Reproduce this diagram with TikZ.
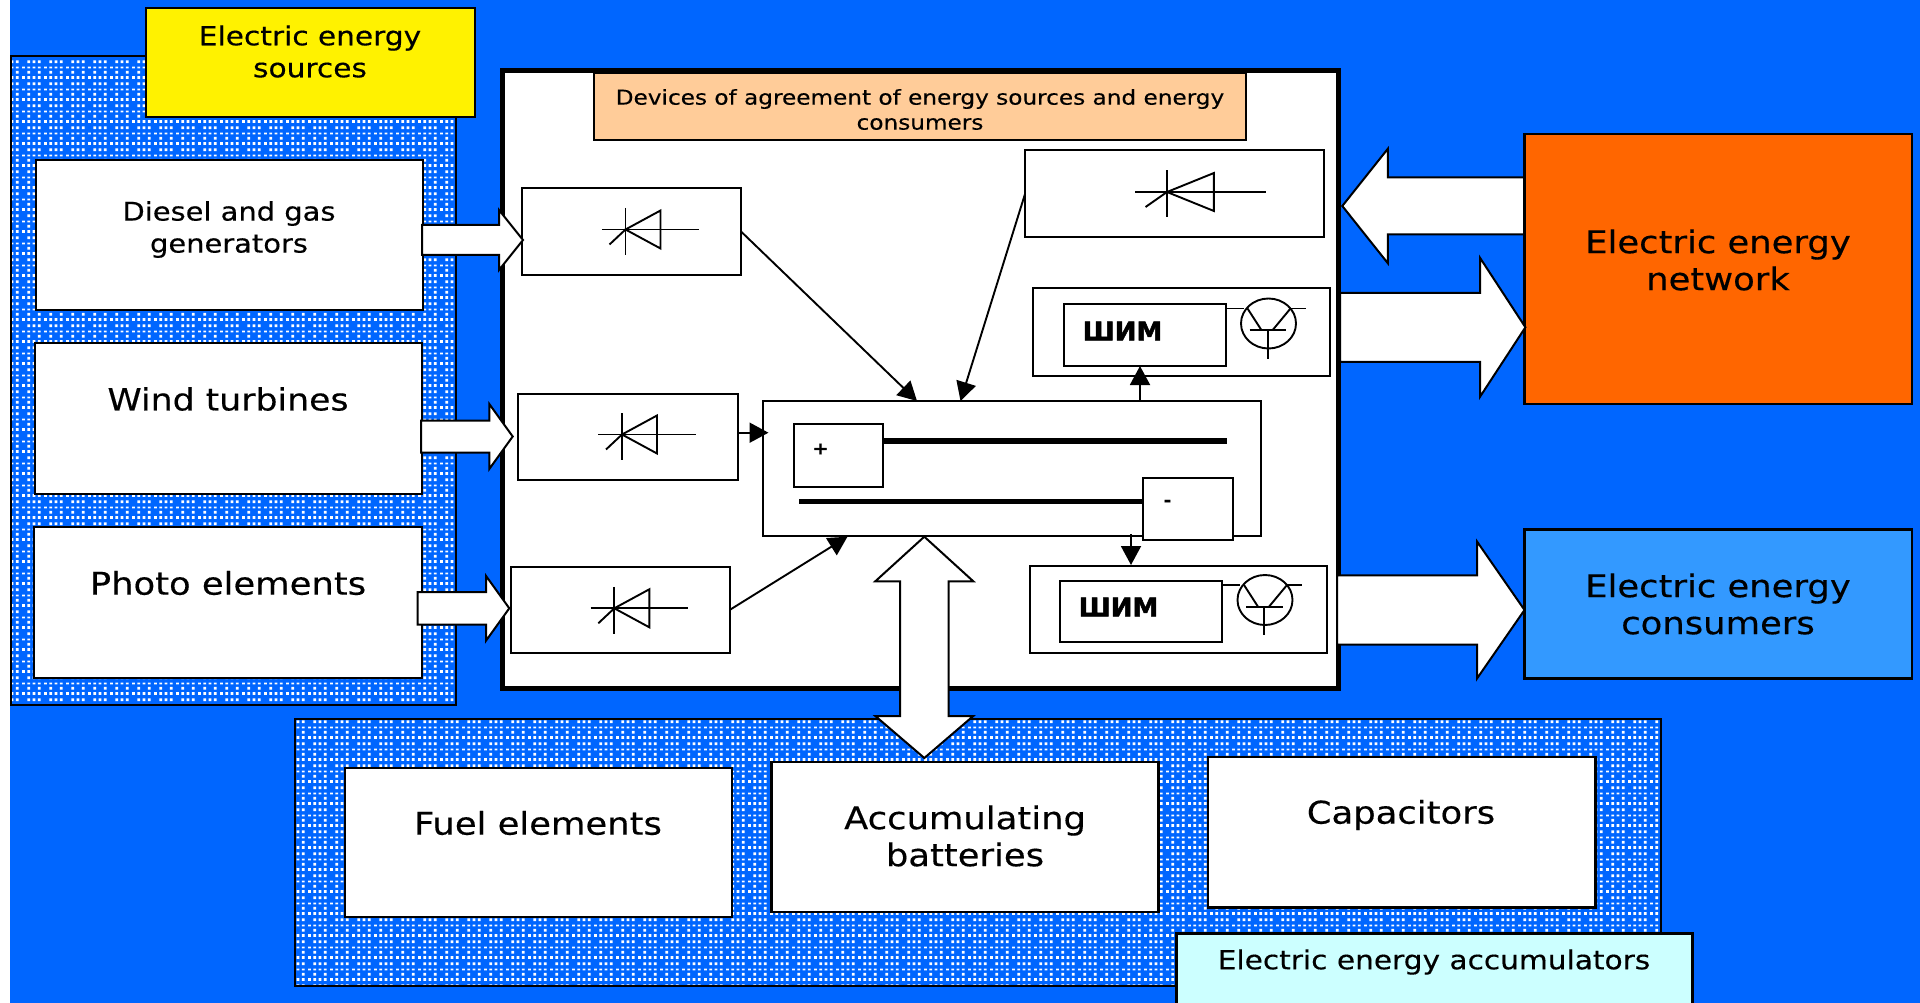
\documentclass[tikz,border=0pt]{standalone}
\usepackage{fontspec}
\setmainfont[FakeStretch=1.13,FakeBold=0.35]{DejaVu Sans}
\newfontfamily\pwmfont[FakeBold=2]{DejaVu Sans Bold}
\usetikzlibrary{calc,patterns,arrows.meta}
\definecolor{bgblue}{HTML}{0066FF}
\definecolor{netorange}{HTML}{FF6600}
\definecolor{consblue}{HTML}{3399FF}
\definecolor{headpeach}{HTML}{FFCC99}
\definecolor{acccyan}{HTML}{CCFFFF}
\pgfdeclarepatternformonly{dotgrid}{\pgfpointorigin}{\pgfqpoint{22pt}{22pt}}{\pgfqpoint{22pt}{22pt}}{%
  \foreach \c in {0,5.5,11,16.5}{\pgfpathrectangle{\pgfqpoint{\c pt}{0pt}}{\pgfqpoint{3pt}{3pt}}}%
  \foreach \c in {5.5,16.5}{\pgfpathrectangle{\pgfqpoint{\c pt}{5.5pt}}{\pgfqpoint{3pt}{3pt}}}%
  \foreach \c in {0,5.5,11,16.5}{\pgfpathrectangle{\pgfqpoint{\c pt}{11pt}}{\pgfqpoint{3pt}{2pt}}}%
  \foreach \c in {5.5,11,16.5}{\pgfpathrectangle{\pgfqpoint{\c pt}{16.5pt}}{\pgfqpoint{3pt}{3pt}}}%
  \pgfusepath{fill}}
\tikzset{
  dotpanel/.style={draw=black,line width=2.4pt,preaction={fill=bgblue},preaction={pattern=dotgrid,pattern color=white}},
  whitebox/.style={draw=black,line width=2.4pt,fill=white},
  thinbox/.style={draw=black,line width=2pt,fill=white},
  blockarrow/.style={draw=black,line width=2pt,fill=white,line join=miter},
  symbol/.style={draw=black,line width=1.9pt},
  link/.style={draw=black,line width=1.9pt,-{Triangle[length=19pt,width=20pt]}},
  smalltxt/.style={font=\fontsize{20.5}{25}\selectfont,align=center,inner sep=0pt},
  diesetxt/.style={font=\fontsize{25.6}{32}\selectfont,align=center,inner sep=0pt},
  midtxt/.style={font=\fontsize{26.2}{32}\selectfont,align=center,inner sep=0pt},
  windtxt/.style={font=\fontsize{30.7}{37}\selectfont,align=center,inner sep=0pt},
  bigtxt/.style={font=\fontsize{31.3}{37}\selectfont,align=center,inner sep=0pt},
  pwmtxt/.style={font=\pwmfont\fontsize{26}{30}\selectfont,inner sep=0pt},
  signtxt/.style={font=\bfseries\fontsize{17}{20}\selectfont,inner sep=0pt}
}
% style, name, x1, y1, x2, y2
\newcommand{\boxat}[6]{%
  \pgfmathsetmacro\myw{#5-(#3)}\pgfmathsetmacro\myh{#6-(#4)}%
  \node[#1,minimum width=\myw pt,minimum height=\myh pt,inner sep=0pt,outer sep=0pt] (#2) at ({(#3+#5)/2},{(#4+#6)/2}) {};}
% tail, tip, head length (signed), half shaft, half head
\newcommand{\blockH}[5]{%
  \draw[blockarrow] (#1 |- {$(#2)+(0,-#4)$}) -- ($(#2)+(-#3,-#4)$) -- ($(#2)+(-#3,-#5)$) -- (#2)
    -- ($(#2)+(-#3,#5)$) -- ($(#2)+(-#3,#4)$) -- (#1 |- {$(#2)+(0,#4)$}) -- cycle;}
\newcommand{\diode}[3]{%
  \begin{scope}[shift={(#2,#3)},xscale=#1]
    \draw[symbol] (-23.7,0) -- (73.7,0);
    \draw[symbol] (0,-21.5) -- (0,25.5);
    \draw[symbol] (0,0) -- (35,-19) -- (35,19) -- cycle;
    \draw[symbol] (0,0) -- (-16,15);
  \end{scope}}
\newcommand{\transistor}[2]{%
  \begin{scope}[shift={(#1,#2)}]
    \draw[symbol] (-43,-15) -- (-25,-15);
    \draw[symbol] (22,-15) -- (37,-15);
    \draw[symbol] (0,0) ellipse [x radius=27.5pt,y radius=25pt];
    \draw[symbol] (-21,-15) -- (-7,6.7);
    \draw[symbol] (22,-15) -- (4,6.7);
    \draw[symbol] (-19,6.7) -- (17.5,6.7);
    \draw[symbol] (-0.7,6.7) -- (-0.7,35);
  \end{scope}}
\begin{document}
\begin{tikzpicture}[x=1pt,y=-1pt]
\useasboundingbox (0,0) rectangle (1920,1003);
\clip (0,0) rectangle (1920,1003);
\fill[white] (0,0) rectangle (1920,1003);
\fill[bgblue] (10,0) rectangle (1920,1003);

% source panel
\boxat{dotpanel}{srcpanel}{11}{56}{456}{705}
\boxat{draw=black,line width=2.4pt,fill=yellow}{srchead}{146}{8}{475}{117}
\node[midtxt] (srchead-t) at (310,51.5) {Electric energy\\sources};
\boxat{whitebox}{diesel}{36}{160}{423}{310}
\node[diesetxt] (diesel-t) at (229,229.5) {Diesel and gas\\generators};
\boxat{whitebox}{wind}{35}{343}{422}{494}
\node[windtxt] (wind-t) at (228,399) {Wind turbines};
\boxat{whitebox}{photo}{34}{527}{422}{678}
\node[bigtxt] (photo-t) at (228,583) {Photo elements};

% accumulators panel
\boxat{dotpanel}{accpanel}{295}{719}{1661}{986}
\boxat{whitebox}{fuel}{345}{768}{732}{917}
\node[bigtxt] (fuel-t) at (538,823) {Fuel elements};
\boxat{whitebox}{batt}{771.5}{762}{1158.5}{912}
\node[bigtxt] (batt-t) at (965,836) {Accumulating\\batteries};
\boxat{whitebox}{caps}{1208}{757}{1595.5}{907.5}
\node[bigtxt] (caps-t) at (1401,815) {Capacitors};
\boxat{draw=black,line width=2.4pt,fill=acccyan}{acchead}{1176.5}{933.5}{1692.5}{1015}
\node[midtxt] (acchead-t) at (1434,962) {Electric energy accumulators};

% device frame
\boxat{draw=black,line width=5pt,fill=white}{frame}{502}{71}{1338}{688}
\boxat{draw=black,line width=2.2pt,fill=headpeach}{devhead}{594}{73}{1246}{140}
\node[smalltxt] (devhead-t) at (920,109.5) {Devices of agreement of energy sources and energy\\consumers};

% outer nodes
\boxat{draw=black,line width=2.4pt,fill=netorange}{network}{1524.5}{134}{1912}{404}
\node[bigtxt] (network-t) at (1718,260) {Electric energy\\network};
\boxat{draw=black,line width=2.4pt,fill=consblue}{consumers}{1524.5}{529.5}{1912}{678.5}
\node[bigtxt] (consumers-t) at (1718,604) {Electric energy\\consumers};

% rectifiers
\boxat{thinbox}{rectA}{521.5}{188.5}{741}{274.5}
\diode{1}{625.5}{229.5}
\boxat{thinbox}{rectB}{518}{393.5}{737.5}{479.5}
\diode{1}{622}{434.5}
\boxat{thinbox}{rectC}{510.5}{566.5}{730}{653}
\diode{1}{614.3}{608.3}
\boxat{thinbox}{rectD}{1025}{150.5}{1323.5}{237.5}
\diode{1.34}{1167}{192}

% PWM units
\boxat{thinbox}{pwmU}{1033}{288}{1330}{376}
\boxat{thinbox}{pwmUi}{1063.5}{304}{1226}{366}
\node[pwmtxt] (pwmU-t) at (1122.5,331) {ШИМ};
\transistor{1268.5}{323.5}
\boxat{thinbox}{pwmL}{1029.5}{565.5}{1326.5}{652.5}
\boxat{thinbox}{pwmLi}{1059.5}{581}{1222}{641.5}
\node[pwmtxt] (pwmL-t) at (1118.5,607) {ШИМ};
\transistor{1265}{600}

% bus
\boxat{thinbox}{bus}{762.5}{401}{1261}{535.5}
\boxat{thinbox}{plus}{794}{424}{883}{487}
\node[signtxt] (plus-t) at (820.5,449) {+};
\coordinate (pbarA) at (883,441);
\coordinate (pbarB) at (1227,441);
\draw[black,line width=5.5pt] (pbarA) -- (pbarB);
\coordinate (mbarA) at (799,501.7);
\draw[black,line width=5.5pt] (mbarA) -- (1143,501.7);
\boxat{thinbox}{minus}{1143}{477.5}{1233}{540}
\node[signtxt] (minus-t) at (1167.5,503) {-};

% thin connectors
\coordinate (busA) at (917,401);
\coordinate (busD) at (960.5,401);
\coordinate (busB) at (768.5,432.7);
\coordinate (busC) at (847.5,536.7);
\coordinate (busUp) at (1140,401);
\coordinate (pwmUin) at (1140,366);
\coordinate (busDown) at (1131,534);
\coordinate (pwmLin) at (1131,565);
\draw[link] (rectA.east) -- (busA);
\draw[link] (rectB.east |- busB) -- (busB);
\draw[link] (rectC.east) -- (busC);
\draw[link] (rectD.west) -- (busD);
\draw[link] (busUp) -- (pwmUin);
\draw[link] (busDown) -- (pwmLin);

% block arrows
\coordinate (tipA) at (523,240);
\coordinate (tailA) at (422,240);
\blockH{tailA}{tipA}{24}{15}{30}
\coordinate (tipB) at (512.7,436.5);
\coordinate (tailB) at (421,436.5);
\blockH{tailB}{tipB}{23.4}{16}{32.5}
\coordinate (tipC) at (509.3,608.3);
\coordinate (tailC) at (417.5,608.3);
\blockH{tailC}{tipC}{23.3}{16.3}{32.4}
\coordinate (tipNet) at (1342.3,206);
\coordinate (tailNet) at (1524,206);
\blockH{tailNet}{tipNet}{-45.5}{28.5}{57.2}
\coordinate (tipOut) at (1525.4,327.3);
\coordinate (tailOut) at (1340,327.3);
\blockH{tailOut}{tipOut}{45.4}{34.5}{69.5}
\coordinate (tipCons) at (1524.5,610);
\coordinate (tailCons) at (1337,610);
\blockH{tailCons}{tipCons}{47.5}{34.7}{68.5}
\coordinate (dblT) at (924.3,536.7);
\coordinate (dblB) at (924.3,758);
\draw[blockarrow] (dblT) -- ($(dblT)+(49,44.6)$) -- ($(dblT)+(24.2,44.6)$) -- ($(dblB)+(24.2,-42)$)
  -- ($(dblB)+(49,-42)$) -- (dblB) -- ($(dblB)+(-49,-42)$) -- ($(dblB)+(-24.2,-42)$)
  -- ($(dblT)+(-24.2,44.6)$) -- ($(dblT)+(-49,44.6)$) -- cycle;
\end{tikzpicture}
\end{document}
